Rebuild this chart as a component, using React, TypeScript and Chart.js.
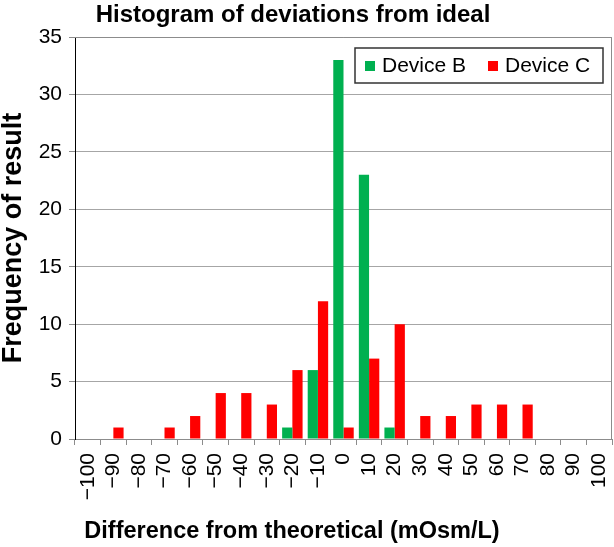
import React, { useEffect, useRef } from "react";
import { Chart, registerables } from "chart.js";

Chart.register(...registerables);

const categories: string[] = [
  "−100", "−90", "−80", "−70", "−60", "−50", "−40", "−30", "−20", "−10",
  "0", "10", "20", "30", "40", "50", "60", "70", "80", "90", "100",
];
const deviceB: number[] = [0, 0, 0, 0, 0, 0, 0, 0, 1, 6, 33, 23, 1, 0, 0, 0, 0, 0, 0, 0, 0];
const deviceC: number[] = [0, 1, 0, 1, 2, 4, 4, 3, 6, 12, 1, 7, 10, 2, 2, 3, 3, 3, 0, 0, 0];
const seriesNames: string[] = ["Device B", "Device C"];
const seriesColors: string[] = ["#00B050", "#FF0000"];
const yTicks = { min: 0, max: 35, step: 5 };
const chartTitle = "Histogram of deviations from ideal";
const xTitle = "Difference from theoretical (mOsm/L)";
const yTitle = "Frequency of result";

const FONT = "'Liberation Sans', Arial, sans-serif";

const decorPlugin = {
  id: "decor",
  afterDatasetsDraw(chart: any) {
    const { ctx, chartArea } = chart;
    ctx.save();
    // plot border (top & right)
    ctx.strokeStyle = "#8c8c8c";
    ctx.lineWidth = 1;
    ctx.beginPath();
    ctx.moveTo(chartArea.left, chartArea.top + 0.5);
    ctx.lineTo(chartArea.right - 0.5, chartArea.top + 0.5);
    ctx.lineTo(chartArea.right - 0.5, chartArea.bottom);
    ctx.stroke();

    // legend box
    const bx = 355, by = 48, bw = 248, bh = 35;
    ctx.fillStyle = "#ffffff";
    ctx.fillRect(bx, by, bw, bh);
    ctx.strokeStyle = "#333333";
    ctx.lineWidth = 1.5;
    ctx.strokeRect(bx, by, bw, bh);
    ctx.font = `21px ${FONT}`;
    ctx.textBaseline = "middle";
    ctx.textAlign = "left";
    const items = chart.data.datasets;
    const xs = [365, 488];
    items.forEach((ds: any, i: number) => {
      ctx.fillStyle = ds.backgroundColor;
      ctx.fillRect(xs[i], by + 13, 10, 10);
      ctx.fillStyle = "#000";
      ctx.fillText(ds.label, xs[i] + 17, by + 18);
    });

    // titles
    ctx.fillStyle = "#000";
    ctx.textAlign = "center";
    ctx.textBaseline = "alphabetic";
    ctx.font = `bold 24px ${FONT}`;
    ctx.fillText(chartTitle, 293, 22);
    ctx.font = `bold 23.5px ${FONT}`;
    ctx.fillText(xTitle, 292, 538);
    ctx.restore();
  },
};

export default function App() {
  const ref = useRef<HTMLCanvasElement | null>(null);
  useEffect(() => {
    if (!ref.current) return;
    const chart = new Chart(ref.current, {
      type: "bar",
      data: {
        labels: categories,
        datasets: [
          { label: seriesNames[0], data: deviceB, backgroundColor: seriesColors[0] },
          { label: seriesNames[1], data: deviceC, backgroundColor: seriesColors[1] },
        ],
      },
      options: {
        responsive: false,
        animation: false,
        devicePixelRatio: 1,
        layout: { padding: { top: 37, right: 2, left: 0, bottom: 0 } },
        datasets: { bar: { categoryPercentage: 0.8, barPercentage: 1.0 } },
        plugins: {
          legend: { display: false },
          title: { display: false },
          tooltip: { enabled: false },
        },
        scales: {
          x: {
            grid: {
              offset: true,
              drawOnChartArea: false,
              drawTicks: true,
              tickLength: 6,
              color: "#8c8c8c",
            },
            border: { color: "#8c8c8c" },
            ticks: {
              autoSkip: false,
              minRotation: 90,
              maxRotation: 90,
              padding: 8,
              color: "#000",
              font: { family: FONT, size: 21 },
            },
            afterFit: (scale: any) => {
              scale.height = 108;
              scale.paddingLeft = 0;
              scale.paddingRight = 0;
            },
          },
          y: {
            min: yTicks.min,
            max: yTicks.max,
            ticks: {
              stepSize: yTicks.step,
              padding: 7,
              color: "#000",
              font: { family: FONT, size: 21 },
            },
            grid: { color: "#a6a6a6", tickLength: 6, tickColor: "#8c8c8c" },
            border: { color: "#000" },
            title: {
              display: true,
              text: yTitle,
              color: "#000",
              padding: { top: 0, bottom: 0 },
              font: { family: FONT, size: 27, weight: "bold", lineHeight: 1 },
            },
            afterFit: (scale: any) => {
              scale.width = 75;
            },
          },
        },
      },
      plugins: [decorPlugin],
    });
    return () => chart.destroy();
  }, []);
  return (
    <div style={{ position: "absolute", left: 0, top: 0, width: 614, height: 547, background: "#fff" }}>
      <canvas ref={ref} width={614} height={547} style={{ display: "block" }} />
    </div>
  );
}
